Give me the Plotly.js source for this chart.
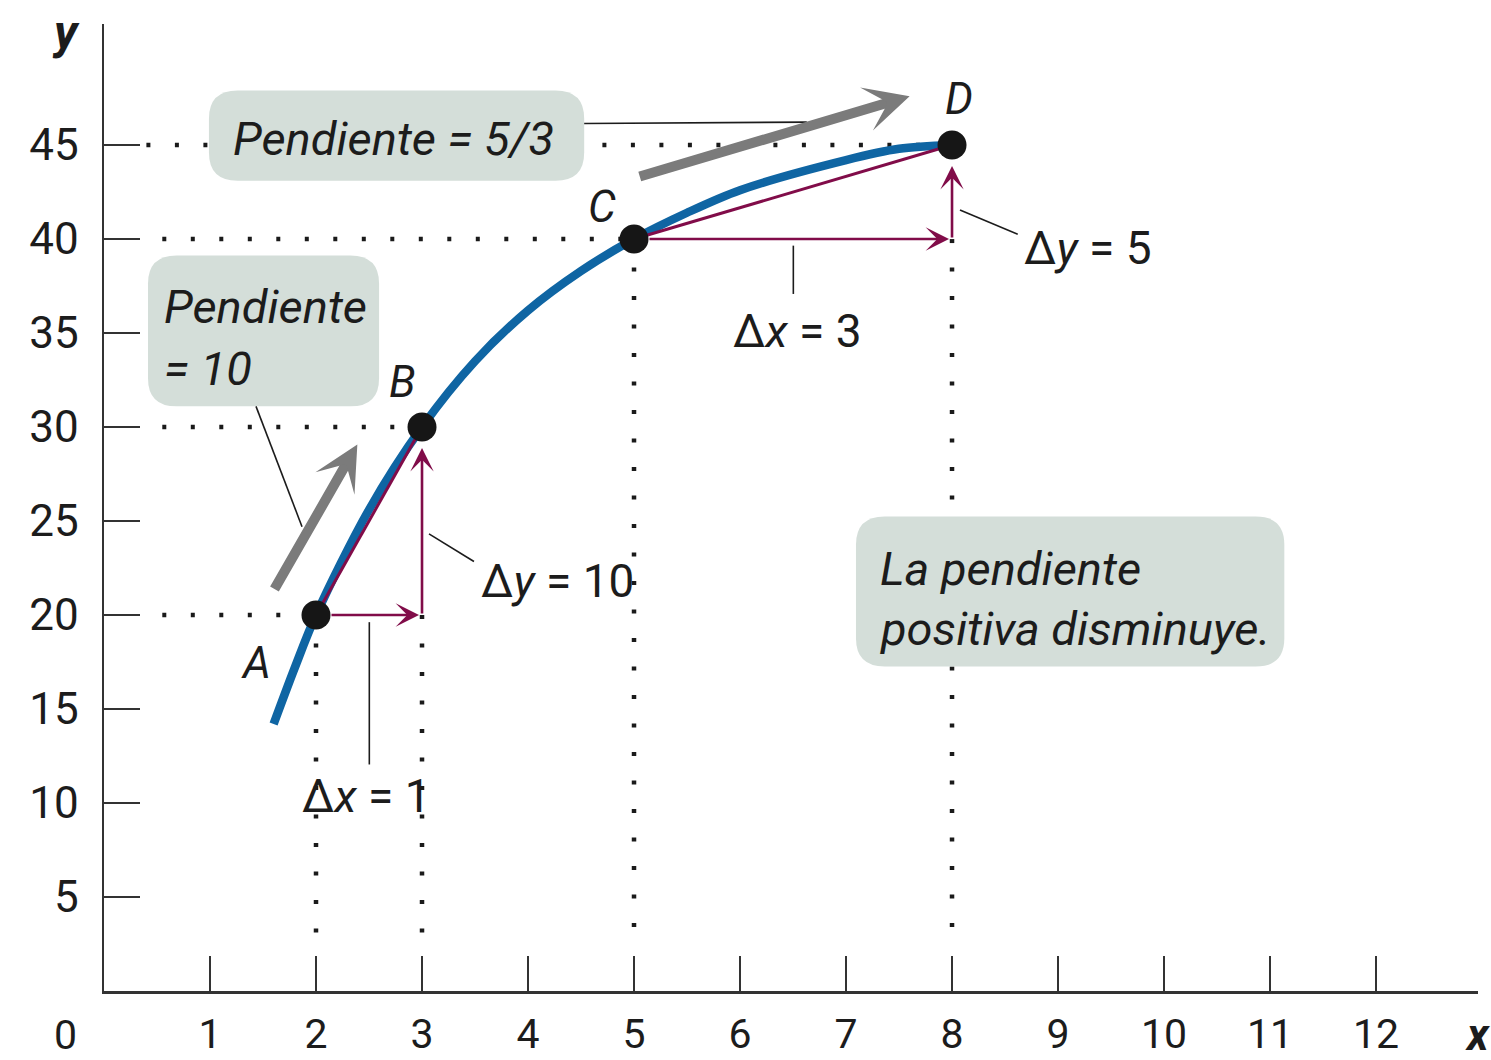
<!DOCTYPE html>
<html>
<head>
<meta charset="utf-8">
<script src="https://cdn.plot.ly/plotly-3.0.1.min.js"></script>
<style>
  html, body { margin: 0; padding: 0; background: #ffffff; }
  #chart { width: 1491px; height: 1060px; }
</style>
</head>
<body>
<div id="chart"></div>
<script>
// Concave curve, sampled along its length
const curveX = [1.6, 1.8, 2, 2.5, 3, 3.5, 4, 4.5, 5, 5.5, 6, 7, 7.5, 8];
const curveY = [14.2, 17.2, 20, 25.6, 30, 33.5, 36.2, 38.3, 40, 41.4, 42.6, 44.2, 44.8, 45];

// Labelled points on the curve
const pointNames = ['A', 'B', 'C', 'D'];
const pointX = [2, 3, 5, 8];
const pointY = [20, 30, 40, 45];

// Axis ticks
const xTicks = [1, 2, 3, 4, 5, 6, 7, 8, 9, 10, 11, 12];
const yTicks = [5, 10, 15, 20, 25, 30, 35, 40, 45];

// Box texts
const boxTop = 'Pendiente = 5/3';
const boxLeft = ['Pendiente', '= 10'];
const boxRight = ['La pendiente', 'positiva disminuye.'];

const BLUE = '#0f65a3';
const PURPLE = '#810c49';
const GREY = '#7b7b7b';
const INK = '#1c1c1c';
const AXIS = '#333333';
const BOX = '#d4ded9';
const FONT = 'Roboto, "Noto Sans", sans-serif';

// Segments A-B and C-D: the two chords measured by the triangles
const segments = [[0, 1], [2, 3]];

const traces = [];
traces.push({
  x: curveX, y: curveY, type: 'scatter', mode: 'lines',
  line: { color: BLUE, width: 8.5, shape: 'spline', smoothing: 0.9 },
  hoverinfo: 'skip', showlegend: false
});
segments.forEach(([a, b]) => {
  traces.push({
    x: [pointX[a], pointX[b]], y: [pointY[a], pointY[b]],
    type: 'scatter', mode: 'lines',
    line: { color: PURPLE, width: 3 },
    hoverinfo: 'skip', showlegend: false
  });
});
traces.push({
  x: pointX, y: pointY, type: 'scatter', mode: 'markers',
  marker: { color: '#161616', size: 29 },
  hoverinfo: 'skip', showlegend: false
});

// Dotted guides from each point to the axes
const dot = { color: '#1a1a1a', width: 4.5, dash: '4px,24.5px' };
const shapes = [];
pointX.forEach((px, i) => {
  shapes.push({ type: 'line', layer: 'below', xref: 'x', yref: 'y',
    x0: i === 3 ? 0.4 : 0.55, x1: px, y0: pointY[i], y1: pointY[i], line: dot });
  // vertical guide starts at the triangle corner for the end points
  const top = (i % 2 === 1) ? pointY[i - 1] : pointY[i];
  shapes.push({ type: 'line', layer: 'below', xref: 'x', yref: 'y',
    x0: px, x1: px, y0: top, y1: 2.15, line: dot });
});

// Rounded boxes behind the texts
function roundedBox(x0, x1, y0, y1) {
  const rx = 0.27, ry = 1.5;
  return `M${x0 + rx},${y1} L${x1 - rx},${y1} Q${x1},${y1} ${x1},${y1 - ry} ` +
         `L${x1},${y0 + ry} Q${x1},${y0} ${x1 - rx},${y0} L${x0 + rx},${y0} ` +
         `Q${x0},${y0} ${x0},${y0 + ry} L${x0},${y1 - ry} Q${x0},${y1} ${x0 + rx},${y1} Z`;
}
[[0.99, 4.53, 43.1, 47.9], [0.415, 2.595, 31.1, 39.12], [7.094, 11.135, 17.26, 25.24]]
  .forEach(([x0, x1, y0, y1]) => {
    shapes.push({ type: 'path', layer: 'above', xref: 'x', yref: 'y',
      path: roundedBox(x0, x1, y0, y1), fillcolor: BOX, line: { width: 0 } });
  });

// Thin leader lines from labels
const lead = { color: INK, width: 1.6 };
[
  [4.53, 46.15, 6.63, 46.22],
  [1.434, 31.1, 1.868, 24.7],
  [3.066, 24.32, 3.49, 22.85],
  [2.503, 19.62, 2.503, 12.05],
  [6.503, 39.65, 6.503, 37.08],
  [8.075, 41.55, 8.62, 40.25]
].forEach(([x0, y0, x1, y1]) => {
  shapes.push({ type: 'line', layer: 'above', xref: 'x', yref: 'y',
    x0, y0, x1, y1, line: lead });
});

const annotations = [];
// Rise and run arrows of each triangle
segments.forEach(([a, b]) => {
  annotations.push({ xref: 'x', yref: 'y', axref: 'x', ayref: 'y',
    x: pointX[b], y: pointY[a], ax: pointX[a], ay: pointY[a], text: '',
    showarrow: true, arrowhead: 3, arrowsize: 1.5, arrowwidth: 2.6, arrowcolor: PURPLE,
    standoff: 3, startstandoff: 14 });
  annotations.push({ xref: 'x', yref: 'y', axref: 'x', ayref: 'y',
    x: pointX[b], y: pointY[b], ax: pointX[b], ay: pointY[a], text: '',
    showarrow: true, arrowhead: 3, arrowsize: 1.5, arrowwidth: 2.6, arrowcolor: PURPLE,
    standoff: 21 });
});

// Broad grey direction arrows
[[2.39, 29.07, 1.6, 21.3], [7.6, 47.6, 5.04, 43.3]].forEach(([x, y, ax, ay]) => {
  annotations.push({ xref: 'x', yref: 'y', axref: 'x', ayref: 'y',
    x, y, ax, ay, text: '', showarrow: true, arrowhead: 3, arrowsize: 0.75,
    arrowwidth: 10, arrowcolor: GREY });
});

// Point names
const nameSpots = [[1.434, 17.47], [2.82, 32.37], [4.70, 41.68], [8.07, 47.47]];
pointNames.forEach((n, i) => {
  annotations.push({ xref: 'x', yref: 'y', x: nameSpots[i][0], y: nameSpots[i][1],
    text: '<i>' + n + '</i>', showarrow: false,
    font: { family: FONT, size: 44, color: INK } });
});

// Change labels
[
  ['Δ<i>y</i> = 10', 4.28, 21.83],
  ['Δ<i>x</i> = 1', 2.48, 10.35],
  ['Δ<i>x</i> = 3', 6.54, 35.13],
  ['Δ<i>y</i> = 5', 9.28, 39.55]
].forEach(([t, x, y]) => {
  annotations.push({ xref: 'x', yref: 'y', x, y, text: t, showarrow: false,
    font: { family: FONT, size: 46, color: INK } });
});

// Box texts
const boxFont = { family: FONT, size: 47, color: INK };
annotations.push({ xref: 'x', yref: 'y', x: 1.2, y: 45.35, xanchor: 'left',
  text: '<i>' + boxTop + '</i>', showarrow: false, font: boxFont });
boxLeft.forEach((t, i) => {
  annotations.push({ xref: 'x', yref: 'y', x: 0.55, y: [36.41, 33.11][i], xanchor: 'left',
    text: '<i>' + t + '</i>', showarrow: false, font: boxFont });
});
boxRight.forEach((t, i) => {
  annotations.push({ xref: 'x', yref: 'y', x: 7.3, y: [22.47, 19.28][i], xanchor: 'left',
    text: '<i>' + t + '</i>', showarrow: false, font: boxFont });
});

// Axis letters and the origin label
const cornerText = (text, x, y, size) => ({
  xref: 'paper', yref: 'paper', x, y, xanchor: 'center', yanchor: 'middle',
  text, showarrow: false, font: { family: FONT, size, color: INK }
});
annotations.push(cornerText('<b><i>y</i></b>', -0.0277, 0.992, 48));
annotations.push(cornerText('<b><i>x</i></b>', 0.9993, -0.045, 44));
annotations.push(cornerText('0', -0.0277, -0.045, 41));

const axisCommon = {
  showline: true, linecolor: AXIS, linewidth: 2.5,
  ticks: 'inside', tickcolor: AXIS, tickwidth: 2,
  showgrid: false, zeroline: false, fixedrange: true
};

const layout = {
  width: 1491, height: 1060,
  margin: { l: 104, r: 13, t: 24, b: 69, pad: 0 },
  paper_bgcolor: '#ffffff', plot_bgcolor: '#ffffff',
  showlegend: false,
  xaxis: Object.assign({}, axisCommon, {
    range: [0, 12.962], tickvals: xTicks, ticktext: xTicks.map(String),
    ticklen: 35, ticklabelstandoff: 5,
    tickfont: { family: FONT, size: 41, color: INK }
  }),
  yaxis: Object.assign({}, axisCommon, {
    range: [0, 51.44], tickvals: yTicks, ticktext: yTicks.map(String),
    ticklen: 36, ticklabelstandoff: 14,
    tickfont: { family: FONT, size: 44, color: INK }
  }),
  shapes, annotations
};

Plotly.newPlot('chart', traces, layout, { staticPlot: true, displayModeBar: false });
</script>
</body>
</html>
